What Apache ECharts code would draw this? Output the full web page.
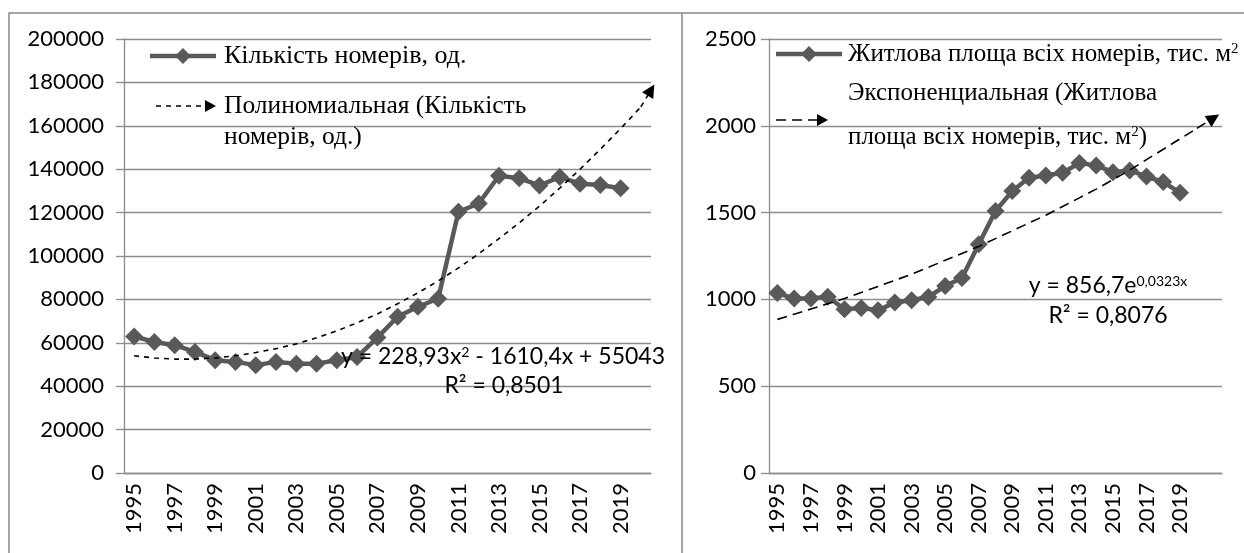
<!DOCTYPE html>
<html>
<head>
<meta charset="utf-8">
<script src="https://cdn.jsdelivr.net/npm/echarts@6/dist/echarts.min.js"></script>
<style>
  html, body { margin: 0; padding: 0; background: #fff; }
  #main { width: 1244px; height: 553px; }
</style>
</head>
<body>
<div id="main"></div>
<script>
// роки (ліва діаграма має 1 порожню категорію прогнозу, права — 2)
const yearsLeft = ['1995','1996','1997','1998','1999','2000','2001','2002','2003','2004','2005','2006','2007',
  '2008','2009','2010','2011','2012','2013','2014','2015','2016','2017','2018','2019',''];
const yearsRight = yearsLeft.concat(['']);

// Кількість номерів, од.
const roomsCount = [62900, 60400, 58900, 55800, 52000, 51200, 49700, 51200, 50400, 50400, 52000, 53500, 62400,
  72000, 76600, 80300, 120400, 124200, 137000, 135800, 132500, 136400, 133300, 132700, 131200];
// поліноміальний тренд (x — номер періоду)
const roomsTrendX = [1,2,3,4,5,6,7,8,9,10,11,12,13,14,15,16,17,18,19,20,21,22,23,24,25,26,26.5];
const roomsTrend = [54000, 53000, 52500, 52500, 53000, 54000, 55500, 57300, 59500, 62300, 65500, 69200, 73300,
  78000, 83000, 88500, 94500, 101000, 108000, 115300, 123000, 131300, 140000, 149200, 158700, 168700, 176500];

// Житлова площа всіх номерів, тис. м2
const areaTotal = [1037, 1005, 1005, 1015, 943, 950, 937, 982, 995, 1014, 1077, 1123, 1318,
  1509, 1624, 1701, 1714, 1730, 1785, 1772, 1733, 1743, 1708, 1676, 1615];
// експоненціальний тренд
const areaTrendX = [1,2,3,4,5,6,7,8,9,10,11,12,13,14,15,16,17,18,19,20,21,22,23,24,25,26,27];
const areaTrend = [885, 915, 945, 975, 1005, 1040, 1075, 1110, 1145, 1185, 1225, 1265, 1305,
  1350, 1395, 1440, 1485, 1535, 1585, 1635, 1690, 1745, 1805, 1865, 1925, 1985, 2045];

const gray = '#595959';
const axisGray = '#8c8c8c';
const sans = 'Lato';
const serif = 'Liberation Serif';

function pairs(xs, ys) {
  return xs.map((x, i) => [x, ys[i]]);
}

function trendSeries(xAxisIndex, yAxisIndex, xs, ys, dash) {
  const pts = pairs(xs, ys);
  const n = pts.length;
  return {
    type: 'line',
    xAxisIndex: xAxisIndex,
    yAxisIndex: yAxisIndex,
    data: pts.slice(0, n - 1),
    symbol: 'none',
    silent: true,
    z: 3,
    lineStyle: { color: '#000', width: 1.6, type: dash },
    markLine: {
      silent: true,
      symbol: ['none', 'triangle'],
      symbolSize: 13,
      label: { show: false },
      lineStyle: { color: '#000', width: 1.6, type: dash },
      data: [[{ coord: pts[n - 2] }, { coord: pts[n - 1] }]]
    }
  };
}

function mainSeries(name, xAxisIndex, yAxisIndex, data) {
  return {
    name: name,
    type: 'line',
    xAxisIndex: xAxisIndex,
    yAxisIndex: yAxisIndex,
    data: data,
    symbol: 'diamond',
    symbolSize: 18,
    showAllSymbol: true,
    z: 2,
    itemStyle: { color: gray },
    lineStyle: { color: gray, width: 4.5 }
  };
}

const catAxis = (gridIndex, data) => ({
  type: 'category',
  gridIndex: gridIndex,
  data: data,
  boundaryGap: true,
  axisLine: { lineStyle: { color: axisGray, width: 1.3 } },
  axisTick: { interval: 0, length: 7, lineStyle: { color: axisGray, width: 1.3 } },
  axisLabel: { interval: 1, rotate: 90, margin: 10, color: '#000', fontFamily: sans, fontSize: 22 }
});

const hiddenX = (gridIndex, max) => ({
  type: 'value', gridIndex: gridIndex, min: 0.5, max: max, show: false
});

const valAxis = (gridIndex, max, step, margin) => ({
  type: 'value',
  gridIndex: gridIndex,
  min: 0,
  max: max,
  interval: step,
  axisLine: { show: true, lineStyle: { color: axisGray, width: 1.3 } },
  axisTick: { show: true, length: 8, lineStyle: { color: axisGray, width: 1.3 } },
  axisLabel: { margin: margin, color: '#000', fontFamily: sans, fontSize: 22, formatter: v => String(v) },
  splitLine: { show: true, lineStyle: { color: axisGray, width: 1.3 } }
});

const supRich = {
  sup: { fontSize: 14, verticalAlign: 'top', fontFamily: sans, fill: '#000' },
  supSerif: { fontSize: 15, verticalAlign: 'top', fontFamily: serif, fill: '#000' }
};

function txt(x, y, text, font, size, align) {
  return {
    type: 'text', x: x, y: y, z: 10, silent: true,
    style: {
      text: text, fill: '#000', fontFamily: font, fontSize: size,
      align: align || 'left', verticalAlign: 'middle', rich: supRich
    }
  };
}

function lineIcon(x1, x2, y) {
  const cx = (x1 + x2) / 2;
  return [
    { type: 'line', z: 10, shape: { x1: x1, y1: y, x2: x2, y2: y }, style: { stroke: gray, lineWidth: 4.5 } },
    { type: 'polygon', z: 11, shape: { points: [[cx, y - 8], [cx + 8, y], [cx, y + 8], [cx - 8, y]] }, style: { fill: gray } }
  ];
}

function arrowIcon(x1, x2, y, dash) {
  return [
    { type: 'line', z: 10, shape: { x1: x1, y1: y, x2: x2 - 10, y2: y }, style: { stroke: '#000', lineWidth: 1.6, lineDash: dash } },
    { type: 'polygon', z: 11, shape: { points: [[x2 - 11, y - 6], [x2, y], [x2 - 11, y + 6]] }, style: { fill: '#000' } }
  ];
}

const option = {
  animation: false,
  backgroundColor: '#fff',
  grid: [
    { left: 124, top: 39, width: 527, height: 434 },
    { left: 769, top: 39, width: 453, height: 434 }
  ],
  xAxis: [
    catAxis(0, yearsLeft),
    hiddenX(0, 26.5),
    catAxis(1, yearsRight),
    hiddenX(1, 27.5)
  ],
  yAxis: [
    valAxis(0, 200000, 20000, 20),
    valAxis(1, 2500, 500, 13)
  ],
  series: [
    mainSeries('Кількість номерів, од.', 0, 0, roomsCount),
    trendSeries(1, 0, roomsTrendX, roomsTrend, [5, 5]),
    mainSeries('Житлова площа всіх номерів, тис. м2', 2, 1, areaTotal),
    trendSeries(3, 1, areaTrendX, areaTrend, [10, 6])
  ],
  graphic: [
    // рамки
    { type: 'polyline', z: 20, shape: { points: [[9, 553], [9, 13], [1244, 13]] }, style: { stroke: '#888', lineWidth: 1.5, fill: null } },
    { type: 'line', z: 20, shape: { x1: 682, y1: 13, x2: 682, y2: 553 }, style: { stroke: '#888', lineWidth: 1.5 } },
    // легенда зліва
    ...lineIcon(150, 216, 56),
    txt(224, 56, 'Кількість номерів, од.', serif, 26),
    ...arrowIcon(156, 216, 106, [5, 5]),
    txt(224, 106, 'Полиномиальная (Кількість', serif, 25.5),
    txt(224, 137, 'номерів, од.)', serif, 25.5),
    // легенда справа
    ...lineIcon(776, 842, 54),
    txt(848, 54, 'Житлова площа всіх номерів, тис. м{supSerif|2}', serif, 25),
    txt(848, 93, 'Экспоненциальная (Житлова', serif, 25),
    ...arrowIcon(776, 828, 120, [10, 6]),
    txt(848, 137, 'площа всіх номерів, тис. м{supSerif|2})', serif, 25),
    // рівняння трендів
    txt(503, 357, 'y = 228,93x{sup|2} - 1610,4x + 55043', sans, 23, 'center'),
    txt(504, 386, 'R² = 0,8501', sans, 23, 'center'),
    txt(1108, 286, 'y = 856,7e{sup|0,0323x}', sans, 23, 'center'),
    txt(1108, 316, 'R² = 0,8076', sans, 23, 'center')
  ]
};

const chart = echarts.init(document.getElementById('main'));
chart.setOption(option);
</script>
</body>
</html>
